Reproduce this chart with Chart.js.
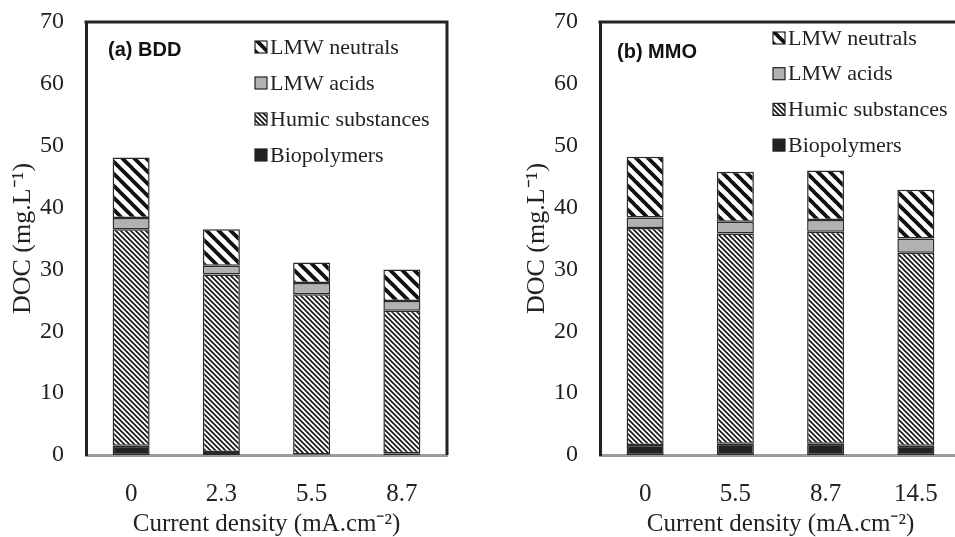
<!DOCTYPE html>
<html>
<head>
<meta charset="utf-8">
<script src="https://cdn.jsdelivr.net/npm/chart.js@4.4.1/dist/chart.umd.min.js"></script>
<style>
  html, body { margin: 0; padding: 0; background: #fff; overflow: hidden; width: 955px; height: 537px; }
  .panel { position: absolute; top: 0; height: 537px; width: 460px; }
  #left { left: 0; }
  #right { left: 514px; }
</style>
</head>
<body>
<div class="panel" id="left"><canvas id="bdd"></canvas></div>
<div class="panel" id="right"><canvas id="mmo"></canvas></div>
<script>
// Current density categories (mA.cm-2)
const bddCurrent = ['0', '2.3', '5.5', '8.7'];
const mmoCurrent = ['0', '5.5', '8.7', '14.5'];

// DOC fractions, mg/L (stacked bottom to top)
const bddBiopolymers = [1.5, 0.5, 0.1, 0.3];
const bddHumic = [35.0, 28.7, 25.9, 23.0];
const bddAcids = [1.8, 1.4, 1.8, 1.6];
const bddNeutrals = [9.8, 5.9, 3.3, 5.1];

const mmoBiopolymers = [1.6, 1.8, 1.8, 1.5];
const mmoHumic = [35.1, 34.0, 34.3, 31.2];
const mmoAcids = [1.7, 1.9, 1.9, 2.3];
const mmoNeutrals = [9.8, 8.1, 8.0, 7.9];

const yMin = 0, yMax = 70, yStep = 10;

const SERIF = '"Liberation Serif", "Times New Roman", serif';

// diagonal "\" stripes
function stripes(size, width, color) {
  const c = document.createElement('canvas');
  c.width = size; c.height = size;
  const g = c.getContext('2d');
  g.fillStyle = '#fff';
  g.fillRect(0, 0, size, size);
  g.strokeStyle = color;
  g.lineWidth = width;
  g.beginPath();
  for (const o of [-size, 0, size]) {
    g.moveTo(o - 1, -1);
    g.lineTo(o + size + 1, size + 1);
  }
  g.stroke();
  return g.createPattern(c, 'repeat');
}

const patNeutrals = stripes(12, 3.8, '#111');
const patHumic = stripes(5, 1.7, '#1a1a1a');

// frame, panel tag and legend drawn inside the plot area
const panelDecor = {
  id: 'panelDecor',
  afterDraw(chart, args, opts) {
    const { ctx, chartArea: a } = chart;
    ctx.save();
    ctx.strokeStyle = '#222';
    ctx.lineWidth = 3;
    ctx.beginPath();
    ctx.moveTo(a.left - 1.5, a.top);
    ctx.lineTo(a.right, a.top);
    ctx.lineTo(a.right, a.bottom);
    ctx.stroke();

    ctx.textBaseline = 'middle';
    ctx.fillStyle = '#111';
    ctx.font = 'bold 20px "Liberation Sans", Arial, sans-serif';
    ctx.fillText(opts.tag, a.left + opts.tagX, opts.tagY);

    ctx.font = '22px ' + SERIF;
    const items = chart.data.datasets.slice().reverse();
    items.forEach((d, i) => {
      const x = a.left + opts.legendX;
      const y = opts.legendY + i * opts.legendGap;
      ctx.fillStyle = d.backgroundColor;
      ctx.fillRect(x, y - 6, 12, 12);
      ctx.strokeStyle = '#222';
      ctx.lineWidth = 1.2;
      ctx.strokeRect(x, y - 6, 12, 12);
      ctx.fillStyle = '#222';
      ctx.fillText(d.label, x + 15, y + 1);
    });
    ctx.restore();
  }
};

function makeDatasets(bio, humic, acids, neutrals) {
  const common = { borderColor: '#2a2a2a', borderWidth: 1.5, borderSkipped: false, barPercentage: 0.41, categoryPercentage: 1 };
  return [
    { label: 'Biopolymers', data: bio, backgroundColor: '#222', ...common },
    { label: 'Humic substances', data: humic, backgroundColor: patHumic, ...common },
    { label: 'LMW acids', data: acids, backgroundColor: '#b1b1b4', ...common },
    { label: 'LMW neutrals', data: neutrals, backgroundColor: patNeutrals, ...common },
  ];
}

function makeChart(canvasId, labels, datasets, decor, padRight) {
  return new Chart(document.getElementById(canvasId), {
    type: 'bar',
    data: { labels, datasets },
    plugins: [panelDecor],
    options: {
      responsive: true,
      maintainAspectRatio: false,
      animation: false,
      layout: { padding: { top: 22, right: padRight, bottom: 0, left: 0 } },
      plugins: {
        legend: { display: false },
        tooltip: { enabled: false },
        panelDecor: decor,
      },
      scales: {
        x: {
          stacked: true,
          grid: { display: false, drawTicks: false },
          border: { display: true, color: '#9c9c9c', width: 3 },
          ticks: { color: '#222', font: { family: SERIF, size: 25 }, padding: 24 },
          title: { display: true, text: 'Current density (mA.cm⁻²)', color: '#222', font: { family: SERIF, size: 25, lineHeight: 1 }, padding: { top: 0, bottom: 0 } },
          afterFit(s) { s.height = 82; },
        },
        y: {
          stacked: true,
          min: yMin,
          max: yMax,
          grid: { display: false, drawTicks: false },
          border: { display: true, color: '#222', width: 3 },
          ticks: { stepSize: yStep, color: '#222', font: { family: SERIF, size: 24 }, padding: 22 },
          title: { display: true, text: 'DOC (mg.L⁻¹)', color: '#222', font: { family: SERIF, size: 26, lineHeight: 1 }, padding: { top: 10, bottom: 0 } },
          afterFit(s) {
            s.width = 86;
            s.paddingTop = 0;
            s.paddingBottom = 0;
          },
        },
      },
    },
  });
}

makeChart('bdd', bddCurrent, makeDatasets(bddBiopolymers, bddHumic, bddAcids, bddNeutrals),
  { tag: '(a) BDD', tagX: 22, tagY: 50, legendX: 169, legendY: 47, legendGap: 36 }, 13);
makeChart('mmo', mmoCurrent, makeDatasets(mmoBiopolymers, mmoHumic, mmoAcids, mmoNeutrals),
  { tag: '(b) MMO', tagX: 17, tagY: 52, legendX: 173, legendY: 38, legendGap: 35.7 }, 13);
</script>
</body>
</html>
